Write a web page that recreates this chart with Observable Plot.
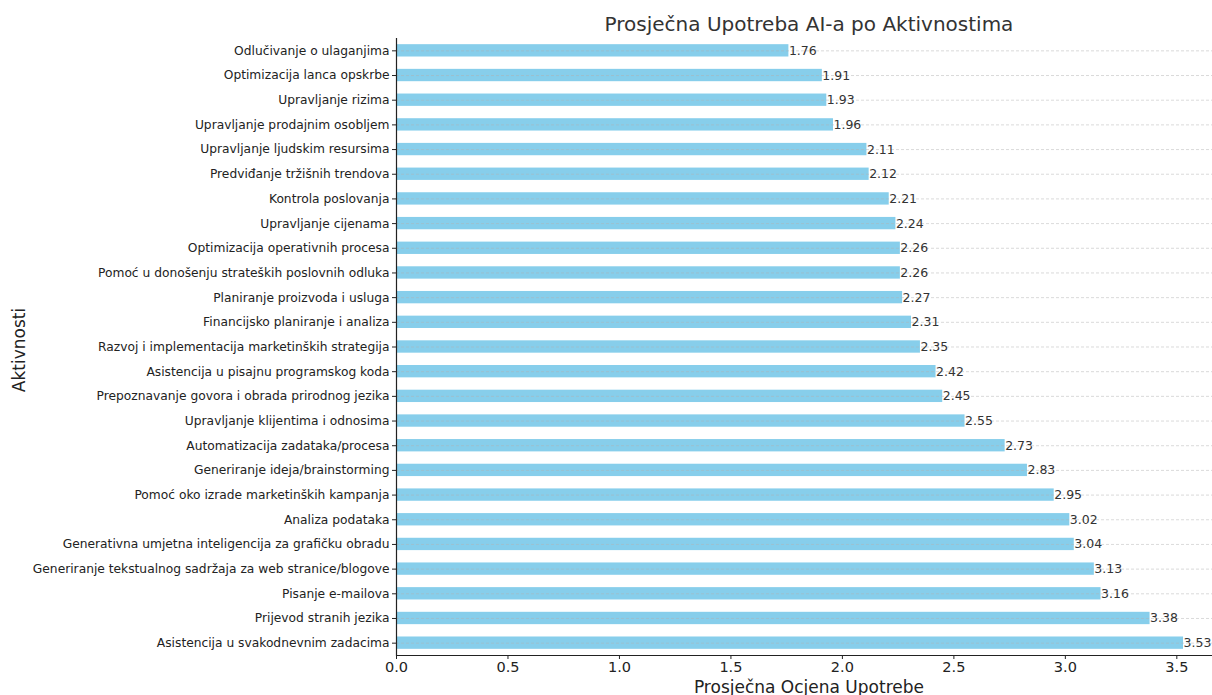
<!DOCTYPE html>
<html>
<head>
<meta charset="utf-8">
<script src="https://cdn.jsdelivr.net/npm/d3@7"></script>
<script src="https://cdn.jsdelivr.net/npm/@observablehq/plot@0.6"></script>
<style>
  html, body { margin: 0; padding: 0; background: #fff; overflow: hidden; }
  #wrap { position: relative; width: 1212px; height: 695px; font-family: "DejaVu Sans", sans-serif; }
  #title { position: absolute; left: 396px; width: 826px; top: 12px; text-align: center; font-size: 20px; color: #333; }
  #chart { position: absolute; left: 0; top: 0; }
  #ylabel { position: absolute; left: 19px; top: 350px; transform: translate(-50%, -50%) rotate(-90deg); font-size: 17px; color: #222; white-space: nowrap; }
</style>
</head>
<body>
<div id="wrap">
  <div id="chart"></div>
  <div id="title">Prosječna Upotreba AI-a po Aktivnostima</div>
  <div id="ylabel">Aktivnosti</div>
</div>
<script>
const activities = [
  "Odlučivanje o ulaganjima",
  "Optimizacija lanca opskrbe",
  "Upravljanje rizima",
  "Upravljanje prodajnim osobljem",
  "Upravljanje ljudskim resursima",
  "Predviđanje tržišnih trendova",
  "Kontrola poslovanja",
  "Upravljanje cijenama",
  "Optimizacija operativnih procesa",
  "Pomoć u donošenju strateških poslovnih odluka",
  "Planiranje proizvoda i usluga",
  "Financijsko planiranje i analiza",
  "Razvoj i implementacija marketinških strategija",
  "Asistencija u pisajnu programskog koda",
  "Prepoznavanje govora i obrada prirodnog jezika",
  "Upravljanje klijentima i odnosima",
  "Automatizacija zadataka/procesa",
  "Generiranje ideja/brainstorming",
  "Pomoć oko izrade marketinških kampanja",
  "Analiza podataka",
  "Generativna umjetna inteligencija za grafičku obradu",
  "Generiranje tekstualnog sadržaja za web stranice/blogove",
  "Pisanje e-mailova",
  "Prijevod stranih jezika",
  "Asistencija u svakodnevnim zadacima"
];
const scores = [1.76, 1.91, 1.93, 1.96, 2.11, 2.12, 2.21, 2.24, 2.26, 2.26, 2.27, 2.31, 2.35, 2.42, 2.45, 2.55, 2.73, 2.83, 2.95, 3.02, 3.04, 3.13, 3.16, 3.38, 3.53];
const xTicks = [0, 0.5, 1, 1.5, 2, 2.5, 3, 3.5];

const data = activities.map((a, i) => ({activity: a, score: scores[i]}));

const chart = Plot.plot({
  width: 1212,
  height: 695,
  marginTop: 38,
  marginBottom: 40,
  marginLeft: 396,
  marginRight: 0,
  style: {fontFamily: "DejaVu Sans, sans-serif", color: "#222", background: "#fff"},
  x: {domain: [0, 3.66], ticks: xTicks, tickFormat: d => d.toFixed(1), label: null},
  y: {domain: activities, paddingInner: 0.5, paddingOuter: 0.25, align: 0.5, round: false, label: null},
  marks: [
    Plot.barX(data, {x: "score", y: "activity", fill: "#87CEEB"}),
    Plot.ruleY(activities, {y: d => d, stroke: "#b0b0b0", strokeOpacity: 0.6, strokeDasharray: "3,2", strokeWidth: 0.8}),
    Plot.text(data, {x: "score", y: "activity", text: d => d.score.toFixed(2), textAnchor: "start", dx: 0, fill: "#333", fontSize: 12.5}),
    Plot.axisY({tickSize: 4, tickPadding: 3, fontSize: 12.25, label: null, stroke: "#222"}),
    Plot.axisX({ticks: xTicks, tickFormat: d => d.toFixed(1), tickSize: 4, tickPadding: 2, fontSize: 14.5, label: null, stroke: "#222"}),
    Plot.ruleX([0], {stroke: "#222", strokeWidth: 1.2}),
    Plot.frame({anchor: "bottom", stroke: "#222", strokeWidth: 1.2}),
    Plot.text(["Prosječna Ocjena Upotrebe"], {frameAnchor: "bottom", dy: 32, x: 1.85, fontSize: 17, fill: "#222", lineAnchor: "middle"})
  ]
});
document.getElementById("chart").appendChild(chart);
</script>
</body>
</html>
